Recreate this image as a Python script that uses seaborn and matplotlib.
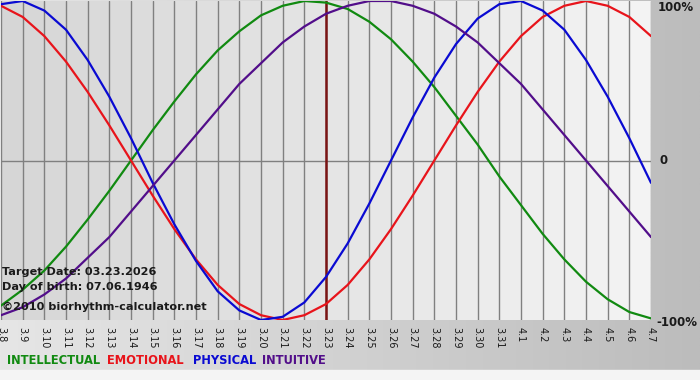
import matplotlib
matplotlib.use("Agg")
import matplotlib.pyplot as plt
from matplotlib.colors import LinearSegmentedColormap
import numpy as np
import pandas as pd
import seaborn as sns

# day labels (month.day), 3.8 .. 4.7
days = ["3.8", "3.9", "3.10", "3.11", "3.12", "3.13", "3.14", "3.15", "3.16", "3.17",
        "3.18", "3.19", "3.20", "3.21", "3.22", "3.23", "3.24", "3.25", "3.26", "3.27",
        "3.28", "3.29", "3.30", "3.31", "4.1", "4.2", "4.3", "4.4", "4.5", "4.6", "4.7"]

# cycle values in percent per day
intellectual = [-91, -81, -69, -54, -37, -19, 0, 19, 37, 54, 69, 81, 91, 97, 100, 99,
                95, 87, 76, 62, 46, 28, 10, -10, -28, -46, -62, -76, -87, -95, -99]
emotional = [97, 90, 78, 62, 43, 22, 0, -22, -43, -62, -78, -90, -97, -100, -97, -90,
             -78, -62, -43, -22, 0, 22, 43, 62, 78, 90, 97, 100, 97, 90, 78]
physical = [98, 100, 94, 82, 63, 40, 14, -14, -40, -63, -82, -94, -100, -98, -89, -73,
            -52, -27, 0, 27, 52, 73, 89, 98, 100, 94, 82, 63, 40, 14, -14]
intuitive = [-97, -92, -84, -74, -61, -48, -32, -16, 0, 16, 32, 48, 61, 74, 84, 92,
             97, 100, 100, 97, 92, 84, 74, 61, 48, 32, 16, 0, -16, -32, -48]

target_day = "3.23"
cycle_names = ["INTELLECTUAL", "EMOTIONAL", "PHYSICAL", "INTUITIVE"]
cycle_colors = ["#118a11", "#e8141b", "#0a0ad2", "#520e8a"]

rows = []
for name, vals in zip(cycle_names, [intellectual, emotional, physical, intuitive]):
    for i, v in enumerate(vals):
        rows.append({"day": i, "value": v, "cycle": name})
df = pd.DataFrame(rows)

sns.set_style("white")
plt.rcParams["font.family"] = ["DejaVu Sans"]

W, H = 700, 380
fig = plt.figure(figsize=(W / 100, H / 100), dpi=100)

# outer background: grey gradient, light strip at the bottom
bg = fig.add_axes([0, 0, 1, 1], zorder=-10)
bg.axis("off")
outer = LinearSegmentedColormap.from_list("outer", ["#e6e6e6", "#bcbcbc"])
grad = np.tile(np.linspace(0, 1, 256), (2, 1))
bg.imshow(grad, extent=[0, 1, 10 / H, 1], aspect="auto", cmap=outer, transform=bg.transAxes)
bg.add_patch(plt.Rectangle((0, 0), 1, 10 / H, color="#f4f4f4", transform=bg.transAxes))
bg.set_xlim(0, 1)
bg.set_ylim(0, 1)

left, right, top, bottom = 1, 651, 1, 320
ax = fig.add_axes([left / W, 1 - bottom / H, (right - left) / W, (bottom - top) / H])
inner = LinearSegmentedColormap.from_list("inner", ["#d6d6d6", "#f4f4f4"])
ax.imshow(grad, extent=[0, 30, -100, 100], aspect="auto", cmap=inner, zorder=0)

sns.lineplot(data=df, x="day", y="value", hue="cycle", hue_order=cycle_names,
             palette=cycle_colors, linewidth=1.6, legend=False, ax=ax, zorder=3)

ax.set_xlim(0, 30)
ax.set_ylim(-100, 100)
ax.set_xticks(range(len(days)))
ax.set_xticklabels(days, rotation=-90, fontsize=7, color="#1a1a1a")
ax.set_yticks([])
ax.grid(axis="x", color="#808080", linewidth=1, zorder=1)
ax.set_axisbelow(True)
ax.tick_params(axis="x", length=4, width=1, color="#808080", pad=1)
ax.axhline(0, color="#808080", linewidth=1, zorder=1)
ax.axvline(days.index(target_day), color="#7a1414", linewidth=1.8, zorder=2)
for s in ax.spines.values():
    s.set_visible(False)
ax.set_xlabel("")
ax.set_ylabel("")

# right side scale labels
for y, lab, xo in [(96, "100%", 30.3), (0, "0", 30.4), (-101.5, "-100%", 30.25)]:
    ax.text(xo, y, lab, fontsize=8.5, fontweight="bold",
            color="#1a1a1a", va="center", ha="left", clip_on=False)

# info text
info = [("Target Date: 03.23.2026", 272), ("Day of birth: 07.06.1946", 287),
        ("\u00a92010 biorhythm-calculator.net", 307)]
for txt, ypx in info:
    fig.text(2 / W, 1 - ypx / H, txt, fontsize=8.1, fontweight="bold",
             color="#1a1a1a", va="center", ha="left")

# legend row
leg_x = [7, 107, 193, 262]
for name, col, xp in zip(cycle_names, cycle_colors, leg_x):
    fig.text(xp / W, 1 - 361 / H, name, fontsize=8.3, fontweight="bold",
             color=col, va="center", ha="left")

fig.savefig("out.png", dpi=100)
